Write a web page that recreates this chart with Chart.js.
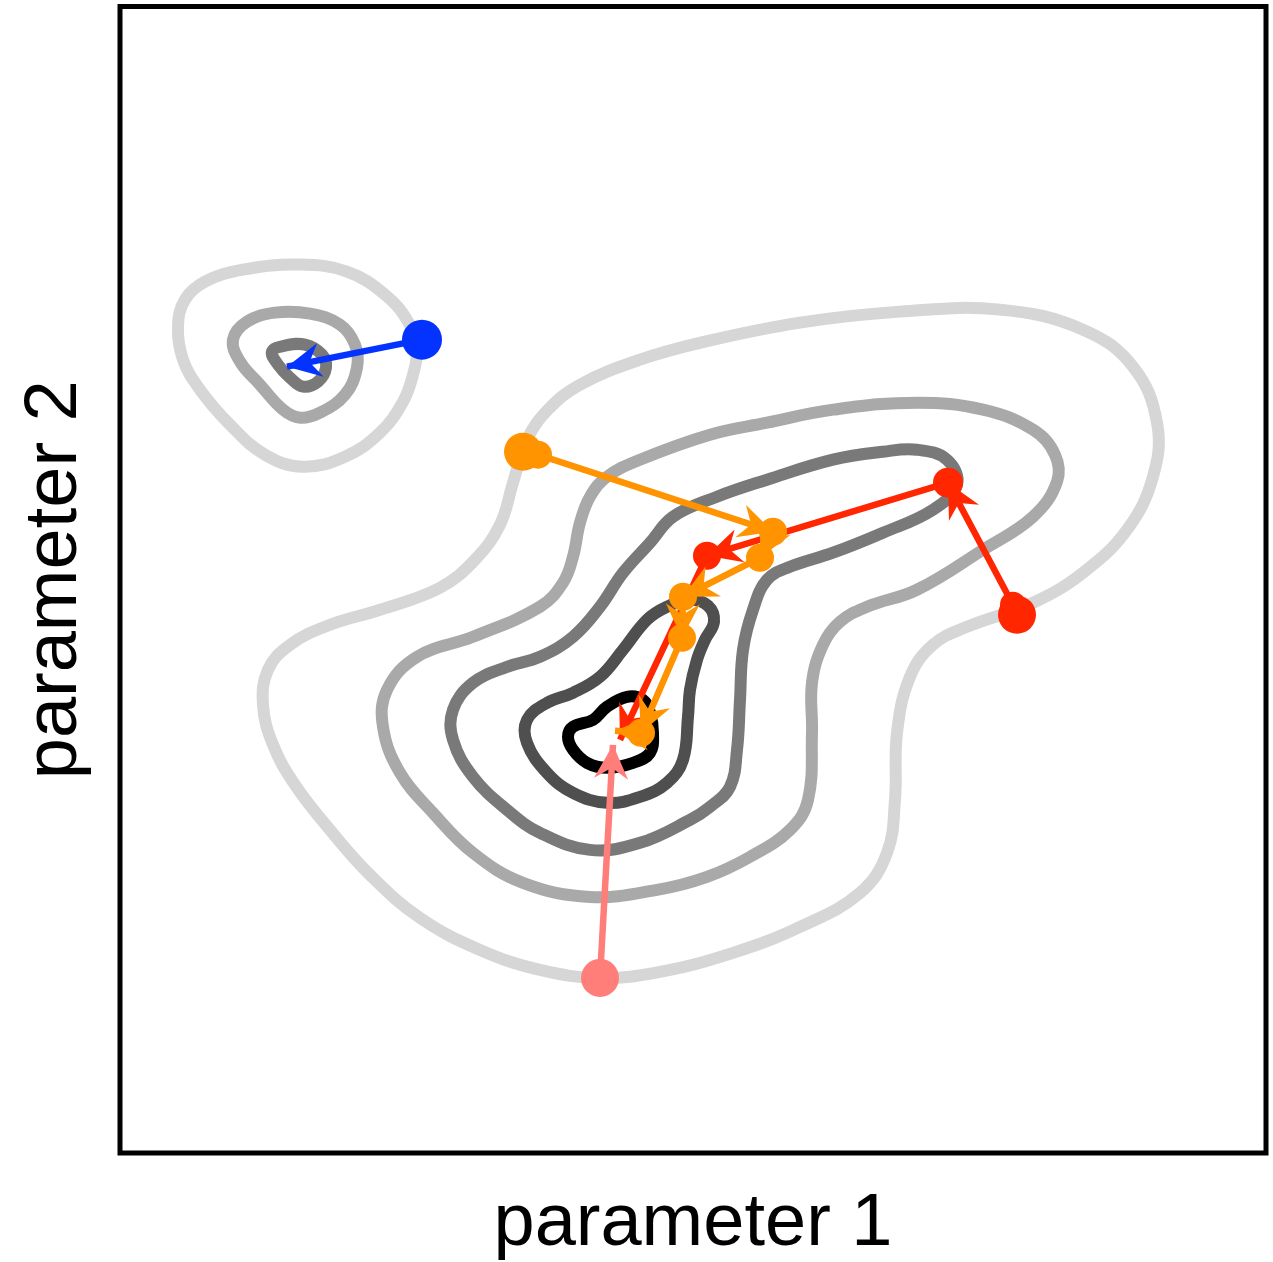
<!DOCTYPE html>
<html>
<head>
<meta charset="utf-8">
<script src="https://cdn.jsdelivr.net/npm/chart.js@4/dist/chart.umd.min.js"></script>
<style>
  body { margin: 0; background: #fff; }
  #box { width: 1273px; height: 1262px; }
</style>
</head>
<body>
<div id="box"><canvas id="myChart"></canvas></div>
<script>
// domaine des paramètres (unités arbitraires)
const xMax = 1146;
const yMax = 1146;

// petit minimum local en haut à gauche : trois niveaux
const blobOuter = [[58,826],[65,853],[85,871],[123,883],[180,888],[227,881],[265,858],[288,831],
                   [297,805],[293,778],[283,751],[260,720],[225,696],[183,686],[145,698],[110,728],
                   [80,763],[63,793]];
const blobMid = [[113,813],[127,831],[155,840],[190,839],[220,828],[235,808],[237,785],[225,758],
                 [200,740],[180,735],[163,743],[140,768],[120,791]];
const blobInner = [[152,801],[165,807],[185,808],[202,798],[206,785],[198,771],[183,766],[170,775],[158,788]];

// grand bassin : cinq niveaux, du plus large au plus profond
const basin1 = [[393,670],[407,713],[428,743],[460,768],[520,793],[585,811],[680,830],[780,841],
                [880,843],[963,823],[1013,786],[1037,730],[1033,676],[1007,623],[963,580],[913,550],
                [847,526],[813,508],[790,476],[777,420],[775,353],[767,300],[740,260],[680,226],
                [613,200],[540,181],[480,175],[420,183],[360,203],[300,235],[250,278],[210,323],
                [175,368],[153,408],[143,448],[148,483],[170,508],[210,528],[260,543],[320,565],
                [355,593],[380,628]];
const basin2 = [[590,718],[647,730],[713,743],[797,750],[863,743],[913,723],[935,698],[937,671],
                [913,636],[863,603],[797,563],[747,546],[720,531],[703,508],[692,470],[692,420],
                [688,353],[670,323],[630,296],[587,276],[537,263],[470,256],[403,270],[353,300],
                [313,340],[280,380],[263,426],[267,463],[297,496],[353,516],[420,546],[443,570],
                [453,596],[460,630],[470,656],[487,676],[520,693]];
const basin3 = [[597,656],[647,673],[713,693],[763,701],[797,703],[827,693],[837,668],[813,643],
                [763,620],[713,600],[670,586],[647,573],[633,543],[623,503],[620,453],[617,403],
                [610,366],[590,346],[570,333],[520,310],[470,303],[420,320],[387,343],[353,376],
                [333,413],[333,443],[353,470],[387,486],[420,496],[453,516],[480,546],[503,580],
                [530,610],[553,636]];
const basin4 = [[547,546],[570,553],[588,547],[594,531],[585,513],[577,493],[570,463],[568,436],
                [563,393],[547,370],[520,356],[487,350],[453,360],[427,380],[407,410],[407,433],
                [427,450],[453,460],[480,476],[503,503],[527,533]];
const basin5 = [[453,426],[473,433],[487,446],[507,456],[523,453],[530,440],[533,420],[530,400],
                [513,390],[487,385],[467,390],[453,403],[448,416]];

// trajectoires des optimiseurs
const orangeX = [403, 418, 653, 640, 563, 562, 521, 495];
const orangeY = [701, 698, 621, 595, 556, 515, 420, 422];
const redX = [897, 893, 828, 587, 500];
const redY = [538, 548, 670, 597, 413];
const pinkX = [480, 493];
const pinkY = [175, 408];
const blueX = [302, 167];
const blueY = [813, 786];

const fontFamily = "'Liberation Sans', Arial, sans-serif";


/**
 * courbe de niveau fermée : on répète le dernier point au début et
 * les deux premiers à la fin, puis on masque les deux segments de raccord
 * @param {array} pts liste de [x, y]
 * @param {string} color
 * @returns {object}
 */
function contour(pts, color) {
    const loop = [pts[pts.length - 1]].concat(pts, [pts[0], pts[1]]);
    const last = loop.length - 1;
    return {
        data: loop.map(p => ({x: p[0], y: p[1]})),
        showLine: true,
        borderColor: color,
        borderWidth: 12,
        borderCapStyle: 'round',
        borderJoinStyle: 'round',
        tension: 0.4,
        pointRadius: 0,
        pointHoverRadius: 0,
        order: 2,
        segment: {
            borderColor: ctx => (ctx.p0DataIndex === 0 || ctx.p1DataIndex === last) ? 'rgba(0,0,0,0)' : undefined
        }
    };
}


/**
 * trajectoire : segments fléchés, un gros point au départ
 * @param {array} xs
 * @param {array} ys
 * @param {string} color
 * @param {array} radii rayon du point à chaque étape
 * @returns {object}
 */
function path(xs, ys, color, radii) {
    return {
        data: xs.map((x, i) => ({x: x, y: ys[i]})),
        showLine: true,
        arrows: true,
        borderColor: color,
        borderWidth: 6.5,
        tension: 0,
        pointRadius: radii,
        pointHoverRadius: radii,
        pointBackgroundColor: color,
        pointBorderWidth: 0,
        order: 1
    };
}


// pointes de flèche dessinées juste après chaque trajectoire
const arrowHeads = {
    id: 'arrowHeads',
    afterDatasetDraw(chart, args) {
        const ds = chart.data.datasets[args.index];
        if (!ds.arrows) return;
        const pts = args.meta.data;
        const ctx = chart.ctx;
        ctx.save();
        ctx.fillStyle = ds.borderColor;
        for (let i = 1; i < pts.length; i++) {
            const a = pts[i - 1], b = pts[i];
            const dx = b.x - a.x, dy = b.y - a.y;
            const len = Math.hypot(dx, dy);
            if (len < 20) continue; // pas trop petit, sinon la pointe déborde
            const ux = dx / len, uy = dy / len;
            ctx.beginPath();
            ctx.moveTo(b.x, b.y);
            ctx.lineTo(b.x - ux * 34 + uy * 17, b.y - uy * 34 - ux * 17);
            ctx.lineTo(b.x - ux * 23, b.y - uy * 23);
            ctx.lineTo(b.x - ux * 34 - uy * 17, b.y - uy * 34 + ux * 17);
            ctx.closePath();
            ctx.fill();
        }
        ctx.restore();
    }
};

// cadre noir autour de la zone de tracé
const frame = {
    id: 'frame',
    afterDatasetsDraw(chart) {
        const {ctx, chartArea: a} = chart;
        ctx.save();
        ctx.strokeStyle = '#000';
        ctx.lineWidth = 5;
        ctx.strokeRect(a.left, a.top, a.right - a.left, a.bottom - a.top);
        ctx.restore();
    }
};


function axis(min, max, label, padding) {
    return {
        type: 'linear',
        min: min,
        max: max,
        grid: {display: false, drawTicks: false},
        border: {display: false},
        ticks: {display: false},
        title: {
            display: true,
            text: label,
            color: '#000',
            font: {family: fontFamily, size: 74, lineHeight: 1},
            padding: padding
        }
    };
}


const datasets = [
    path(orangeX, orangeY, '#ff9300', [19, 14, 14, 14, 14, 14, 14, 0]),
    path(redX, redY, '#ff2600', [19, 13, 15, 14, 0]),
    path(pinkX, pinkY, '#ff7e79', [19, 0]),
    path(blueX, blueY, '#0433ff', [20, 0]),
    contour(basin5, '#000000'),
    contour(basin4, '#4f4f4f'),
    contour(basin3, '#797979'),
    contour(basin2, '#a9a9a9'),
    contour(basin1, '#d6d6d6'),
    contour(blobInner, '#797979'),
    contour(blobMid, '#a9a9a9'),
    contour(blobOuter, '#d6d6d6')
];

const canvas = document.getElementById('myChart');
const myChart = new Chart(canvas.getContext('2d'), {
    type: 'scatter',
    data: {datasets: datasets},
    options: {
        responsive: true,
        maintainAspectRatio: false,
        animation: false,
        events: [],
        layout: {autoPadding: false, padding: {top: 6.5, right: 7, bottom: 0, left: 0}},
        plugins: {legend: {display: false}, tooltip: {enabled: false}},
        scales: {
            x: axis(0, xMax, 'parameter 1', {top: 35, bottom: 0}),
            y: axis(0, yMax, 'parameter 2', {top: 19, bottom: 27})
        }
    },
    plugins: [arrowHeads, frame]
});
</script>
</body>
</html>
